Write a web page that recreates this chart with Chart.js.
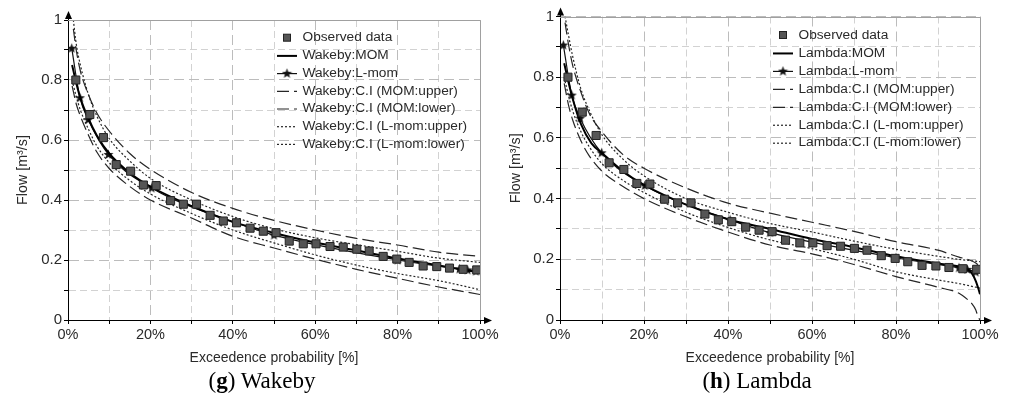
<!DOCTYPE html>
<html>
<head>
<meta charset="utf-8">
<script src="https://cdn.jsdelivr.net/npm/chart.js@4.4.1/dist/chart.umd.min.js"></script>
<style>
  body { margin: 0; background: #fff; width: 1011px; height: 405px; position: relative; overflow: hidden; }
  canvas { position: absolute; top: 0; }
  .cap { position: absolute; top: 367px; font-family: "Liberation Serif", serif; font-size: 23px; color: #000;
         transform: translateX(-50%); white-space: nowrap; line-height: 28px; }
</style>
</head>
<body>
<canvas id="chartG" width="505" height="371" style="left:0"></canvas>
<canvas id="chartH" width="516" height="371" style="left:495px"></canvas>
<div class="cap" style="left:262px">(<b>g</b>) Wakeby</div>
<div class="cap" style="left:757px">(<b>h</b>) Lambda</div>
<script>
'use strict'

// observed flow duration data (same gauge in both panels)
var P_OBS = [1.9, 5.3, 8.6, 11.7, 15.2, 18.3, 21.4, 24.9, 28.0, 31.2, 34.5, 37.7, 40.9, 44.2, 47.4, 50.5,
             53.7, 57.1, 60.2, 63.6, 66.8, 70.1, 73.1, 76.5, 79.8, 82.8, 86.2, 89.5, 92.6, 95.9, 99.2];
var Q_OBS = [0.80, 0.685, 0.608, 0.518, 0.496, 0.45, 0.448, 0.398, 0.386, 0.386, 0.349, 0.330, 0.324, 0.306, 0.296, 0.291,
             0.263, 0.254, 0.254, 0.245, 0.243, 0.236, 0.23, 0.212, 0.203, 0.192, 0.18, 0.178, 0.173, 0.169, 0.167];

//------------- Wakeby ------------- //
var W_MOM_P = [1, 2, 3, 5, 7, 10, 15, 20, 30, 40, 50, 60, 70, 80, 90, 100];
var W_MOM_Q = [0.85, 0.79, 0.74, 0.67, 0.615, 0.555, 0.49, 0.445, 0.38, 0.327, 0.29, 0.258, 0.232, 0.205, 0.182, 0.158];
var W_LMOM_P = [0.9, 2.9, 4.9, 9.8, 20.3, 40.6, 50, 80, 95, 97, 99];
var W_LMOM_Q = [0.906, 0.741, 0.668, 0.552, 0.44, 0.325, 0.283, 0.2, 0.17, 0.167, 0.163];
var W_UP_P = [1.3, 2, 3, 5, 7, 10, 15, 20, 30, 40, 50, 60, 70, 80, 90, 100];
var W_MOM_UP = [0.97, 0.9, 0.83, 0.75, 0.69, 0.63, 0.555, 0.502, 0.425, 0.372, 0.332, 0.30, 0.272, 0.25, 0.226, 0.212];
var W_LMOM_UP = [1.0, 0.92, 0.85, 0.75, 0.68, 0.605, 0.53, 0.472, 0.40, 0.345, 0.304, 0.274, 0.251, 0.229, 0.206, 0.192];
var W_LO_P = [1, 2, 3, 5, 7, 10, 15, 20, 30, 40, 50, 60, 70, 80, 90, 100];
var W_MOM_LO = [0.78, 0.72, 0.68, 0.615, 0.56, 0.505, 0.445, 0.40, 0.34, 0.279, 0.24, 0.203, 0.169, 0.139, 0.11, 0.085];
var W_LMOM_LO = [0.8, 0.745, 0.70, 0.635, 0.58, 0.525, 0.465, 0.42, 0.355, 0.30, 0.257, 0.217, 0.183, 0.155, 0.131, 0.101];

//------------- Lambda ------------- //
var L_MOM_P = [1, 2, 3, 5, 7.5, 10, 15, 20, 30, 40, 50, 60, 70, 80, 90, 95, 97, 98, 99, 99.5, 100];
var L_MOM_Q = [0.846, 0.785, 0.73, 0.645, 0.582, 0.55, 0.49, 0.445, 0.38, 0.332, 0.3, 0.267, 0.24, 0.21, 0.186,
               0.176, 0.166, 0.155, 0.128, 0.108, 0.085];
var L_LMOM_P = [0.8, 2.8, 4.8, 9.9, 20.2, 40.5, 50, 80, 95, 97, 99];
var L_LMOM_Q = [0.906, 0.741, 0.665, 0.551, 0.443, 0.33, 0.288, 0.205, 0.172, 0.167, 0.158];
var L_MUP_P = [1.2, 2, 3, 5, 7, 10, 15, 20, 30, 40, 50, 60, 70, 80, 90, 95, 97, 99, 100];
var L_MOM_UP = [0.98, 0.91, 0.84, 0.75, 0.68, 0.62, 0.545, 0.50, 0.435, 0.385, 0.352, 0.322, 0.292, 0.258, 0.23,
                0.207, 0.2, 0.188, 0.175];
var L_LUP_P = [1.2, 2, 3, 5, 7, 10, 15, 20, 30, 40, 50, 60, 70, 80, 90, 95, 100];
var L_LMOM_UP = [1.0, 0.94, 0.87, 0.76, 0.69, 0.61, 0.53, 0.475, 0.40, 0.355, 0.318, 0.29, 0.26, 0.233, 0.21, 0.2, 0.192];
var L_MLO_P = [1, 2, 3, 5, 7, 10, 15, 20, 30, 40, 50, 60, 70, 80, 90, 95, 97, 98, 99, 99.5, 100];
var L_MOM_LO = [0.78, 0.71, 0.66, 0.59, 0.54, 0.49, 0.44, 0.40, 0.34, 0.29, 0.247, 0.218, 0.183, 0.143, 0.108,
                0.088, 0.068, 0.055, 0.033, 0.012, 0];
var L_LLO_P = [1, 2, 3, 5, 7, 10, 15, 20, 30, 40, 50, 60, 70, 80, 90, 95, 100];
var L_LMOM_LO = [0.8, 0.74, 0.69, 0.62, 0.57, 0.515, 0.46, 0.42, 0.355, 0.305, 0.264, 0.235, 0.2, 0.159, 0.132, 0.12, 0.105];

var FONT = 'Liberation Sans';
var INK = '#2a2a2a';

// filled five point star used as point style
function makeStar(){
  var c = document.createElement('canvas');
  c.width = 11; c.height = 11;
  var g = c.getContext('2d');
  g.fillStyle = '#111';
  g.beginPath();
  for (var k = 0; k < 10; k++) {
    var r = k % 2 === 0 ? 5.3 : 2.2;
    var a = -Math.PI / 2 + k * Math.PI / 5;
    g.lineTo(5.5 + r * Math.cos(a), 5.8 + r * Math.sin(a));
  }
  g.closePath();
  g.fill();
  return c;
}
var STAR = makeStar();

function pts(xs, ys){
  var out = [];
  for (var k = 0; k < xs.length; k++) out.push({x: xs[k], y: ys[k]});
  return out;
}

function ciLine(label, data, dash){
  return {label: label, data: data, borderColor: '#262626', borderWidth: 1.2, borderDash: dash,
          pointRadius: 0, cubicInterpolationMode: 'monotone', fill: false};
}

function makeDatasets(name, momP, momQ, lmP, lmQ, mupP, mup, mloP, mlo, lupP, lup, lloP, llo){
  return [
    {label: 'Observed data', data: pts(P_OBS, Q_OBS), showLine: false, pointStyle: 'rect', pointRadius: 5.7,
     backgroundColor: '#555', borderColor: '#222', borderWidth: 1},
    {label: name + ':MOM', data: pts(momP, momQ), borderColor: '#000', borderWidth: 2, pointRadius: 0,
     cubicInterpolationMode: 'monotone', fill: false},
    {label: name + ':L-mom', data: pts(lmP, lmQ), borderColor: '#111', borderWidth: 1.2, pointStyle: STAR,
     pointRadius: 5, cubicInterpolationMode: 'monotone', fill: false},
    ciLine(name + ':C.I (MOM:upper)', pts(mupP, mup), [12, 5]),
    ciLine(name + ':C.I (MOM:lower)', pts(mloP, mlo), [12, 5]),
    ciLine(name + ':C.I (L-mom:upper)', pts(lupP, lup), [2, 2]),
    ciLine(name + ':C.I (L-mom:lower)', pts(lloP, llo), [2, 2])
  ];
}

function isMajorX(c){ return c.tick && Math.round(c.tick.value) % 20 === 0; }
function isMajorY(c){ return c.tick && Math.round(c.tick.value * 10) % 2 === 0; }

function makeScales(yWidth){
  return {
    x: {
      type: 'linear', min: 0, max: 100,
      ticks: {stepSize: 10, autoSkip: false, maxRotation: 0, padding: 2, color: INK,
              font: {family: FONT, size: 14.5},
              callback: function(v){ return Math.round(v) % 20 === 0 ? v + '%' : ''; }},
      grid: {color: function(c){ return isMajorX(c) ? '#bcbcbc' : '#d2d2d2'; }, lineWidth: 1,
             tickLength: 4, tickColor: '#000'},
      border: {color: '#000', width: 1, dash: function(c){ return c.tick ? (isMajorX(c) ? [10, 5] : [7, 4]) : []; }},
      title: {display: true, text: 'Exceedence probability [%]', color: INK, font: {family: FONT, size: 14}},
      afterFit: function(s){ s.height = 51; }
    },
    y: {
      min: 0, max: 1,
      ticks: {stepSize: 0.1, autoSkip: false, padding: 2, color: INK, font: {family: FONT, size: 15},
              callback: function(v){
                var t = Math.round(v * 10);
                return t % 2 === 0 ? String(t / 10) : '';
              }},
      grid: {color: function(c){ return isMajorY(c) ? '#bcbcbc' : '#d2d2d2'; }, lineWidth: 1,
             tickLength: 4, tickColor: '#000'},
      border: {color: '#000', width: 1, dash: function(c){ return c.tick ? (isMajorY(c) ? [10, 5] : [7, 4]) : []; }},
      title: {display: true, text: 'Flow [m³/s]', color: INK, font: {family: FONT, size: 14.3}},
      afterFit: function(s){ s.width = yWidth; }
    }
  };
}

// frame on top/right and arrow heads on the axes
var axisDeco = {
  id: 'axisDeco',
  afterDraw: function(chart){
    var a = chart.chartArea, c = chart.ctx;
    c.save();
    c.strokeStyle = '#a0a0a0';
    c.lineWidth = 1;
    c.beginPath();
    c.moveTo(a.left, Math.round(a.top) + 0.5);
    c.lineTo(Math.round(a.right) + 0.5, Math.round(a.top) + 0.5);
    c.lineTo(Math.round(a.right) + 0.5, a.bottom);
    c.stroke();
    c.strokeStyle = '#000';
    c.fillStyle = '#000';
    var lx = Math.round(a.left) + 0.5, by = Math.round(a.bottom) + 0.5;
    c.beginPath();
    c.moveTo(lx, a.top); c.lineTo(lx, a.top - 4);
    c.moveTo(a.right, by); c.lineTo(a.right + 6, by);
    c.stroke();
    c.beginPath();
    c.moveTo(lx, a.top - 9); c.lineTo(lx - 3.5, a.top - 1); c.lineTo(lx + 3.5, a.top - 1);
    c.closePath(); c.fill();
    c.beginPath();
    c.moveTo(a.right + 12, by); c.lineTo(a.right + 4, by - 3.5); c.lineTo(a.right + 4, by + 3.5);
    c.closePath(); c.fill();
    c.restore();
  }
};

// legend drawn inside the plot area
var ciLegend = {
  id: 'ciLegend',
  afterDraw: function(chart, args, opts){
    var c = chart.ctx;
    c.save();
    c.font = '13.7px "' + FONT + '"';
    c.textBaseline = 'middle';
    chart.data.datasets.forEach(function(ds, k){
      var y = opts.y + k * opts.dy;
      var x0 = opts.x, x1 = opts.x + 20, xm = (x0 + x1) / 2;
      if (ds.showLine === false) {
        c.fillStyle = ds.backgroundColor;
        c.strokeStyle = ds.borderColor;
        c.fillRect(xm - 3.5, y - 3.5, 7, 7);
        c.strokeRect(xm - 3.5, y - 3.5, 7, 7);
      } else {
        c.strokeStyle = ds.borderColor;
        c.lineWidth = ds.borderWidth;
        c.setLineDash(ds.borderDash || []);
        c.beginPath(); c.moveTo(x0, y + 0.5); c.lineTo(x1, y + 0.5); c.stroke();
        c.setLineDash([]);
        if (ds.pointStyle === STAR) c.drawImage(STAR, xm - 5.5, y - 5.3);
      }
      c.fillStyle = INK;
      c.fillText(ds.label, opts.tx, y);
    });
    c.restore();
  }
};

function initChart(id, datasets, pad, yWidth, legendPos){
  var ctx = document.getElementById(id).getContext('2d');
  return new Chart(ctx, {
    type: 'line',
    data: {datasets: datasets},
    options: {
      responsive: false,
      animation: false,
      events: [],
      layout: {padding: pad},
      scales: makeScales(yWidth),
      plugins: {legend: {display: false}, tooltip: {enabled: false}, ciLegend: legendPos}
    },
    plugins: [axisDeco, ciLegend]
  });
}

initChart('chartG',
  makeDatasets('Wakeby', W_MOM_P, W_MOM_Q, W_LMOM_P, W_LMOM_Q, W_UP_P, W_MOM_UP, W_LO_P, W_MOM_LO,
               W_UP_P, W_LMOM_UP, W_LO_P, W_LMOM_LO),
  {left: 10, right: 25, top: 20, bottom: 0}, 58,
  {x: 277, tx: 302.5, y: 37.7, dy: 17.7});

initChart('chartH',
  makeDatasets('Lambda', L_MOM_P, L_MOM_Q, L_LMOM_P, L_LMOM_Q, L_MUP_P, L_MOM_UP, L_MLO_P, L_MOM_LO,
               L_LUP_P, L_LMOM_UP, L_LLO_P, L_LMOM_LO),
  {left: 8, right: 31, top: 16.5, bottom: 0}, 57,
  {x: 278, tx: 303.5, y: 35, dy: 17.95});
</script>
</body>
</html>
